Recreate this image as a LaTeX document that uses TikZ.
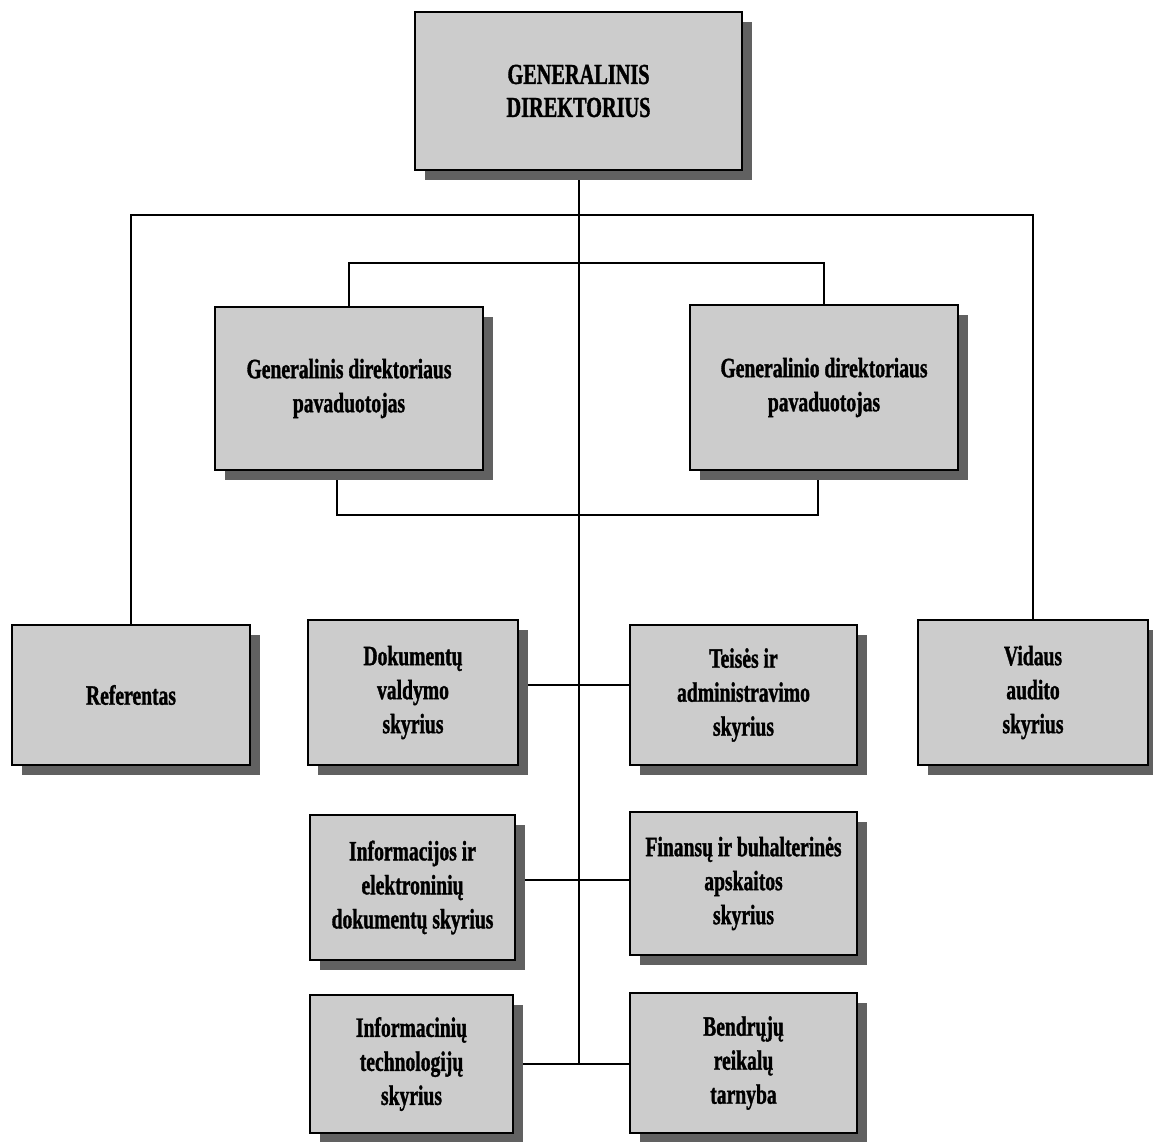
\documentclass[tikz,border=0pt]{standalone}
\usepackage{fontspec}
\newfontfamily\boxfont{Liberation Serif}[FakeStretch=0.7, BoldFeatures={FakeBold=1.2}]
\usetikzlibrary{shadows,backgrounds}
\begin{document}
\begin{tikzpicture}[x=1pt,y=-1pt,
  orgbox/.style={draw=black, line width=2.6pt, fill=black!20, align=center,
    inner sep=4pt,
    font=\boxfont\bfseries\fontsize{28}{34}\selectfont,
    drop shadow={shadow xshift=10pt, shadow yshift=-10pt, fill=black!62, opacity=1}},
  topfont/.style={font=\boxfont\bfseries\fontsize{29}{33}\selectfont},
  link/.style={draw=black, line width=2pt}]
\useasboundingbox (0,0) rectangle (1153,1142);
\node[orgbox, topfont, minimum width=327pt, minimum height=158pt] (gd) at (578.5,91) {GENERALINIS\\DIREKTORIUS};
\node[orgbox, minimum width=268pt, minimum height=163pt] (dep1) at (349,388.5) {Generalinis direktoriaus\\pavaduotojas};
\node[orgbox, minimum width=268pt, minimum height=165pt] (dep2) at (824,387.5) {Generalinio direktoriaus\\pavaduotojas};
\node[orgbox, minimum width=238pt, minimum height=140pt] (ref) at (131,695) {Referentas};
\node[orgbox, minimum width=210pt, minimum height=145pt] (dok) at (413,692.5) {Dokumentų\\valdymo\\skyrius};
\node[orgbox, minimum width=227pt, minimum height=140pt] (tei) at (743.5,695) {Teisės ir\\administravimo\\skyrius};
\node[orgbox, minimum width=230pt, minimum height=145pt] (vid) at (1033,692.5) {Vidaus\\audito\\skyrius};
\node[orgbox, minimum width=205pt, minimum height=145pt] (inf) at (412.5,887.5) {Informacijos ir\\elektroninių\\dokumentų skyrius};
\node[orgbox, minimum width=227pt, minimum height=143pt] (fin) at (743.5,883.5) {Finansų ir buhalterinės\\apskaitos\\skyrius};
\node[orgbox, minimum width=203pt, minimum height=138pt] (it) at (411.5,1064) {Informacinių\\technologijų\\skyrius};
\node[orgbox, minimum width=227pt, minimum height=140pt] (bt) at (743.5,1063) {Bendrųjų\\reikalų\\tarnyba};
\coordinate (tb) at (580,215);
\coordinate (db) at (580,263);
\coordinate (dj) at (580,515);
\begin{scope}[on background layer]
\draw[link] (gd.south) -- (gd.south |- it.east);
\draw[link] (ref.north) |- (tb) -| (vid.north);
\draw[link] (dep1.north) |- (db) -| (dep2.north);
\draw[link] ([xshift=-12pt]dep1.south) |- (dj) -| ([xshift=-6pt]dep2.south);
\draw[link] ([yshift=7.5pt]dok.east) -- ([yshift=7.5pt]dok.east -| tei.west);
\draw[link] ([yshift=7.5pt]inf.east) -- ([yshift=7.5pt]inf.east -| fin.west);
\draw[link] (it.east) -- (it.east -| bt.west);
\end{scope}
\end{tikzpicture}
\end{document}
